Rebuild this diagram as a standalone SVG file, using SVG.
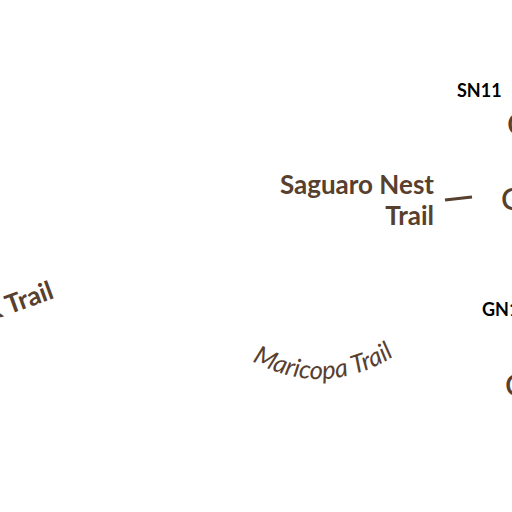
<svg xmlns="http://www.w3.org/2000/svg" width="512" height="512" viewBox="0 0 512 512">
<style>
text{font-family:Lato,"Liberation Sans",sans-serif;fill:#58402f}
.code{font-weight:700;font-size:18px;fill:#000}
.big{font-weight:700;font-size:26px}
.el{font-size:31px;font-weight:500}
</style>
<rect width="512" height="512" fill="#fff"/>
<defs>
<path id="mp" d="M252 361Q325 400 396 355"/>
</defs>
<g id="connectors"><line x1="445" y1="200" x2="472" y2="197" stroke="#58402f" stroke-width="3"/></g>
<g id="n-sn11"><text class="code" x="457" y="97">SN11</text><text class="el" x="507" y="135">C</text></g>
<g id="n-saguaro"><text class="big" x="434" y="194" text-anchor="end">Saguaro Nest</text><text class="big" x="434" y="225" text-anchor="end">Trail</text><text class="el" x="501" y="210">C</text></g>
<g id="n-gn"><text class="code" x="482" y="316">GN1</text><text class="el" x="505" y="396">C</text></g>
<g id="n-k"><text class="big" transform="translate(-9 321) rotate(-20)">k Trail</text></g>
<g id="n-maricopa"><text font-size="25.5" font-style="italic"><textPath href="#mp">Maricopa Trail</textPath></text></g>
</svg>
